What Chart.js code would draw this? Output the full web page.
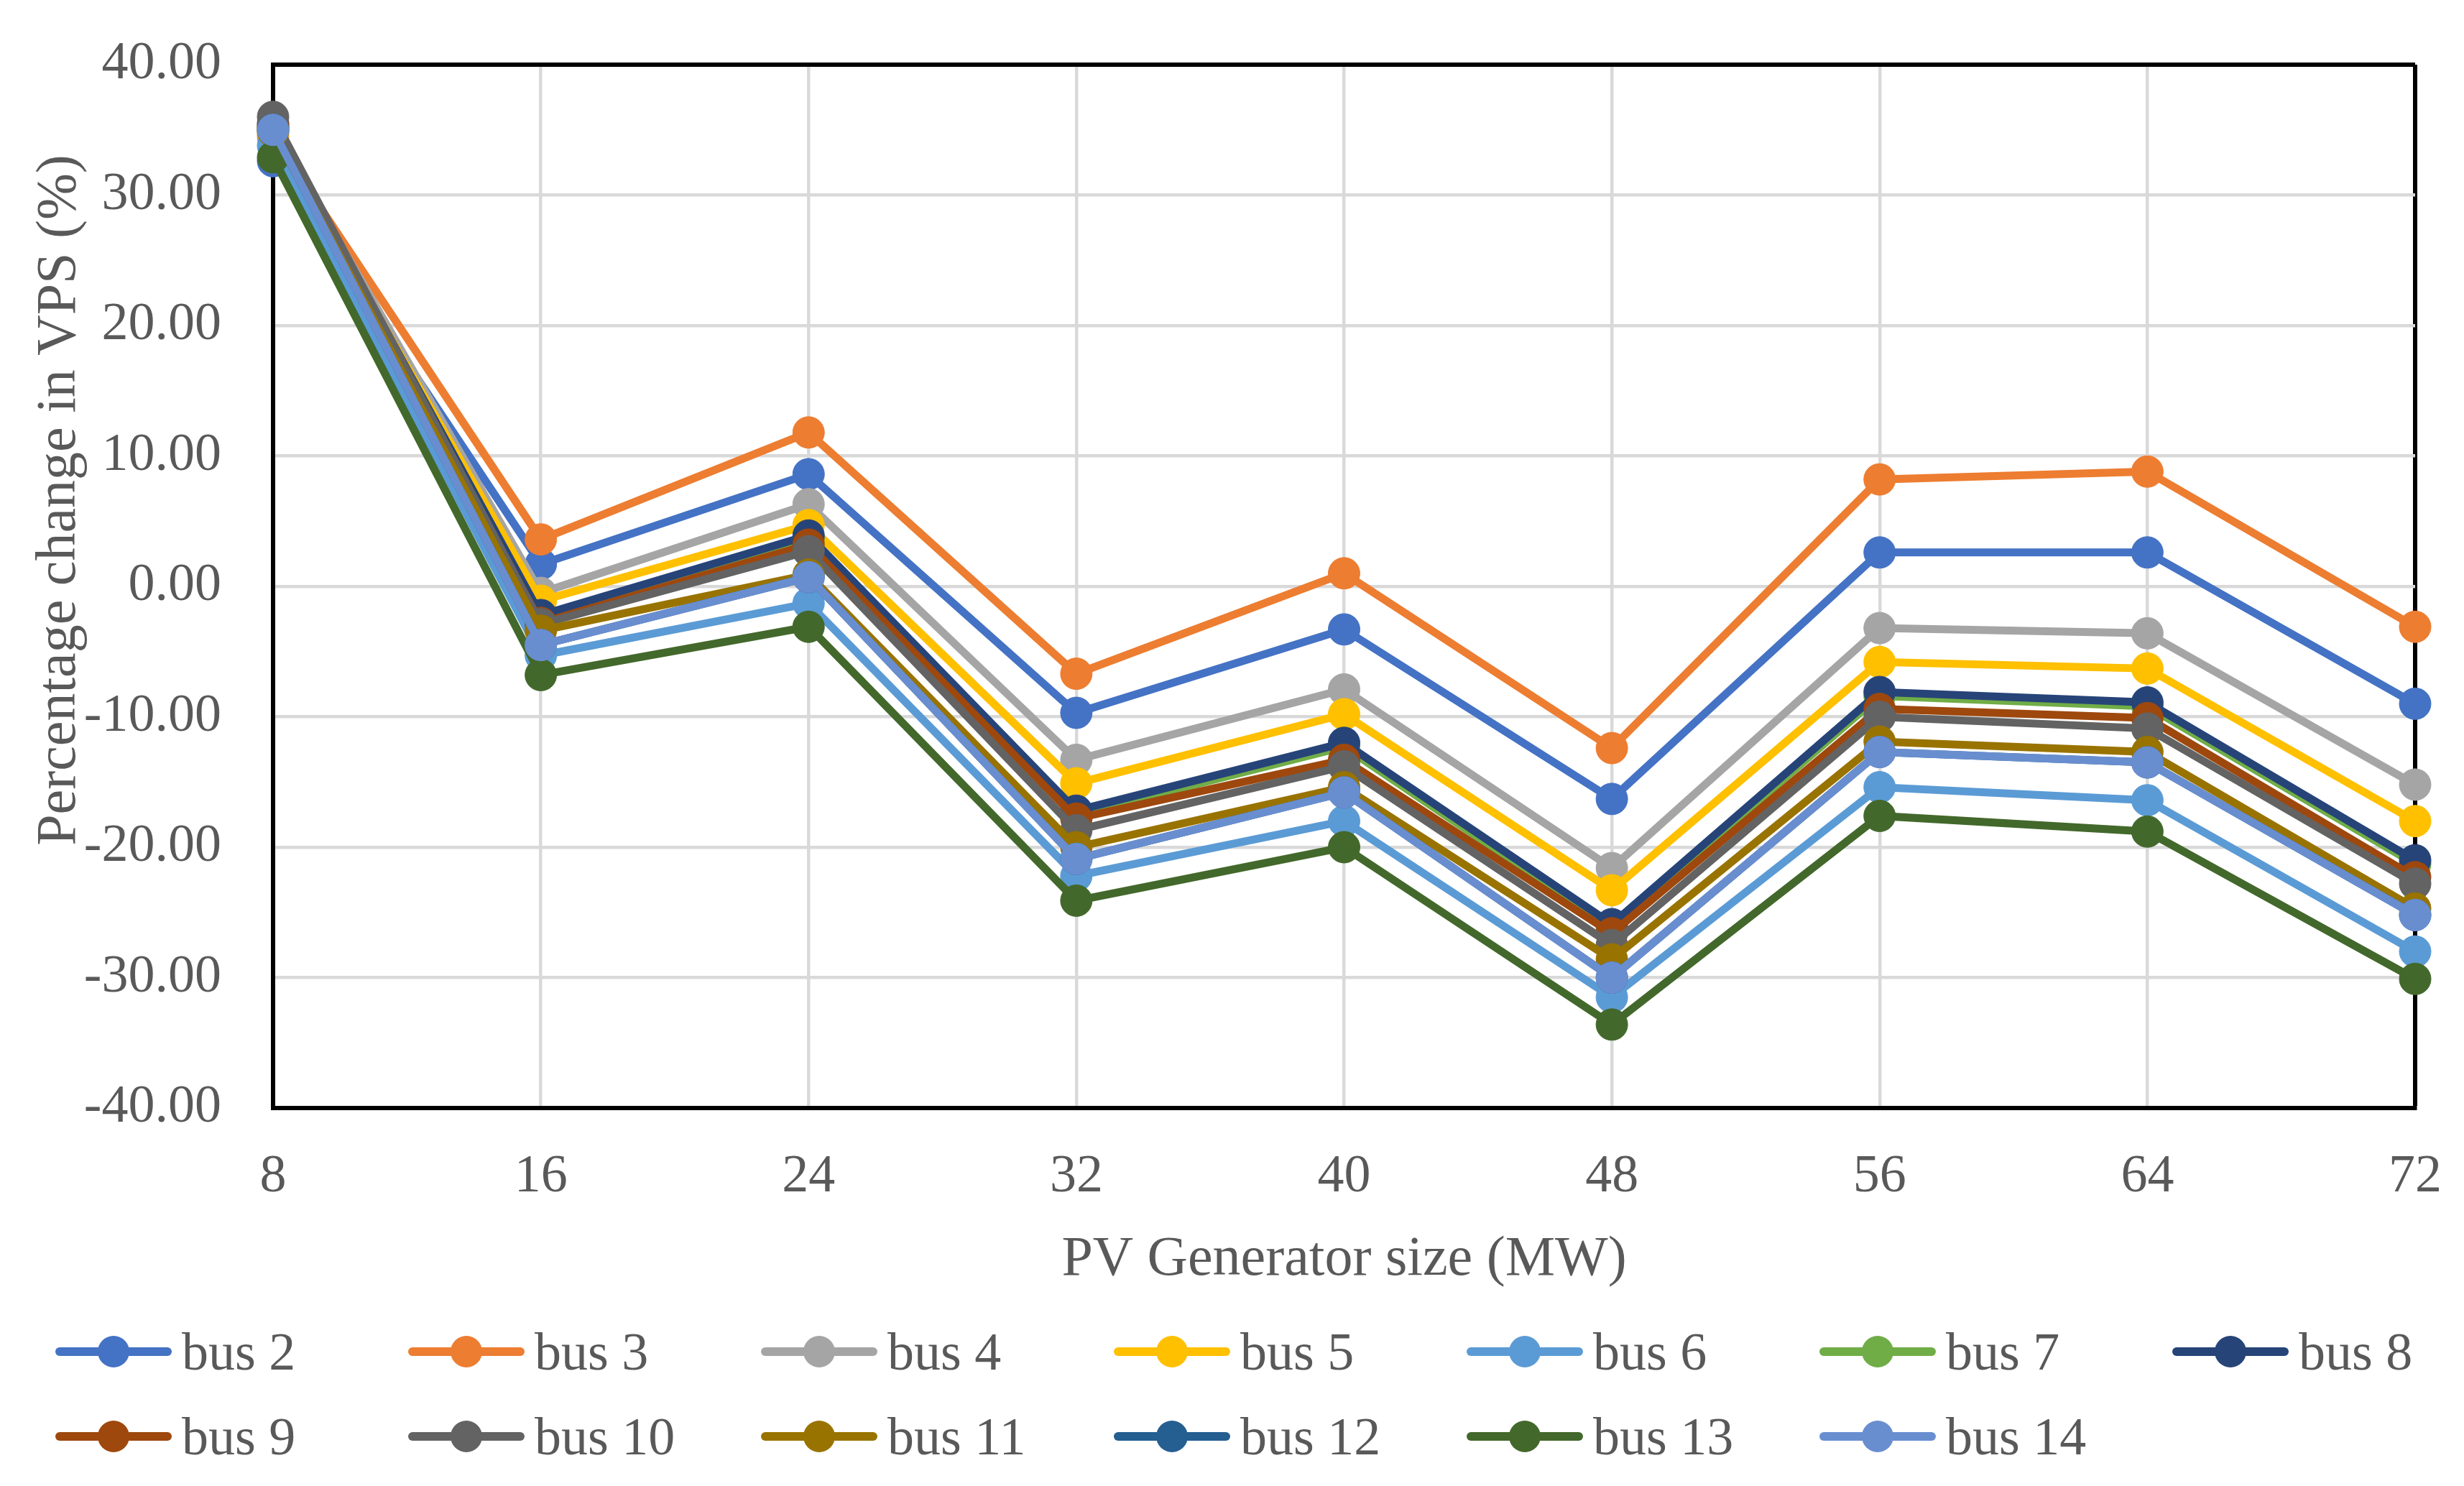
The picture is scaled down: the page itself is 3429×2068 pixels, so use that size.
<!DOCTYPE html>
<html>
<head>
<meta charset="utf-8">
<script src="https://cdn.jsdelivr.net/npm/chart.js@4.4.0/dist/chart.umd.min.js"></script>
<style>
  body { margin: 0; background: #fff; }
  #wrap { position: relative; width: 3429px; height: 2068px; }
  #legend { position: absolute; left: 0; top: 0; width: 3429px; height: 2068px; pointer-events: none;
    font-family: 'Liberation Serif', 'Times New Roman', serif; font-size: 74px; color: #595959; }
  .item { position: absolute; height: 60px; width: 480px; }
  .item .ln { position: absolute; left: 0; top: 24px; width: 162px; height: 12px; border-radius: 6px; }
  .item .dot { position: absolute; left: 59px; top: 8px; width: 44px; height: 44px; border-radius: 50%; }
  .item span { position: absolute; left: 176px; top: 0; line-height: 60px; white-space: nowrap; }
</style>
</head>
<body>
<div id="wrap">
  <canvas id="chart" width="3429" height="2068"></canvas>
  <div id="legend"></div>
</div>
<script>
const pvSizes = ['8', '16', '24', '32', '40', '48', '56', '64', '72'];
const busNames = ['bus 2', 'bus 3', 'bus 4', 'bus 5', 'bus 6', 'bus 7', 'bus 8',
  'bus 9', 'bus 10', 'bus 11', 'bus 12', 'bus 13', 'bus 14'];
const busColors = ['#4472C4', '#ED7D31', '#A5A5A5', '#FFC000', '#5B9BD5', '#70AD47', '#264478',
  '#9E480E', '#636363', '#997300', '#255E91', '#43682B', '#698ED0'];

const bus2 = [32.6, 1.7, 8.6, -9.7, -3.3, -16.3, 2.6, 2.6, -9.0];
const bus3 = [34.5, 3.6, 11.8, -6.7, 1.0, -12.4, 8.2, 8.8, -3.1];
const bus4 = [35.2, -0.5, 6.3, -13.3, -7.9, -21.6, -3.2, -3.6, -15.2];
const bus5 = [34.8, -1.1, 4.7, -15.1, -9.8, -23.3, -5.8, -6.3, -18.0];
const bus6 = [33.8, -5.3, -1.3, -22.2, -18.0, -31.5, -15.4, -16.4, -28.0];
const bus7 = [35.2, -2.5, 3.6, -17.5, -12.3, -26.2, -8.4, -9.2, -21.3];
const bus8 = [35.5, -2.2, 3.9, -17.2, -12.0, -25.9, -8.1, -8.9, -21.0];
const bus9 = [35.3, -2.8, 3.2, -17.8, -13.3, -26.6, -9.4, -10.1, -22.3];
const bus10 = [36.0, -2.9, 2.7, -18.7, -13.8, -27.5, -10.0, -10.9, -22.8];
const bus11 = [34.9, -3.4, 0.9, -20.0, -15.4, -28.6, -11.9, -12.7, -24.7];
const bus12 = [35.0, -4.5, 0.7, -20.9, -15.8, -30.0, -12.7, -13.5, -25.2];
const bus13 = [32.9, -6.8, -3.1, -24.1, -20.0, -33.6, -17.6, -18.8, -30.1];
const bus14 = [35.0, -4.5, 0.7, -20.9, -15.8, -30.0, -12.7, -13.5, -25.2];

const busValues = [bus2, bus3, bus4, bus5, bus6, bus7, bus8, bus9, bus10, bus11, bus12, bus13, bus14];

const xTitle = 'PV Generator size (MW)';
const yTitle = 'Percentage change in VPS (%)';

const textColor = '#595959';
const fontFamily = "'Liberation Serif', 'Times New Roman', serif";

// y axis title sits a bit above the plot centre, as in the original
const yTitlePlugin = {
  id: 'yTitle',
  afterDraw(chart) {
    const ctx = chart.ctx;
    ctx.save();
    ctx.translate(84, 696);
    ctx.rotate(-Math.PI / 2);
    ctx.font = `78px ${fontFamily}`;
    ctx.fillStyle = textColor;
    ctx.textAlign = 'center';
    ctx.textBaseline = 'middle';
    ctx.fillText(yTitle, 0, 0);
    ctx.restore();
  },
};

const datasets = busValues.map((values, i) => ({
  label: busNames[i],
  data: values,
  borderColor: busColors[i],
  backgroundColor: busColors[i],
  pointBackgroundColor: busColors[i],
  pointBorderColor: busColors[i],
  borderWidth: 11,
  pointRadius: 22,
  pointBorderWidth: 1,
  tension: 0,
  clip: false,
  order: -i,
}));

const lastIndex = pvSizes.length - 1;

new Chart(document.querySelector('#chart'), {
  type: 'line',
  data: { labels: pvSizes, datasets },
  options: {
    responsive: false,
    animation: false,
    devicePixelRatio: 1,
    layout: { padding: { left: 0, right: 68, top: 90, bottom: 268 } },
    plugins: {
      legend: { display: false },
      tooltip: { enabled: false },
    },
    scales: {
      x: {
        offset: false,
        grid: {
          drawTicks: false,
          color: (c) => (c.index === lastIndex ? '#000000' : '#D9D9D9'),
          lineWidth: (c) => (c.index === lastIndex ? 6 : 4.5),
        },
        border: { display: true, color: '#000000', width: 6 },
        ticks: {
          padding: 52,
          color: textColor,
          font: { family: fontFamily, size: 74 },
          maxRotation: 0,
        },
        title: {
          display: true,
          text: xTitle,
          color: textColor,
          font: { family: fontFamily, size: 78 },
          padding: 0,
        },
        afterFit: (scale) => {
          scale.height = 258;
          scale.paddingLeft = 0;
          scale.paddingRight = 0;
        },
      },
      y: {
        min: -40,
        max: 40,
        grid: {
          drawTicks: false,
          color: (c) => (c.tick && c.tick.value === 40 ? '#000000' : '#D9D9D9'),
          lineWidth: (c) => (c.tick && c.tick.value === 40 ? 6 : 4.5),
        },
        border: { display: true, color: '#000000', width: 6 },
        ticks: {
          stepSize: 10,
          padding: 72,
          color: textColor,
          font: { family: fontFamily, size: 74 },
          callback: (v) => Number(v).toFixed(2),
        },
        afterFit: (scale) => {
          scale.width = 380;
          scale.paddingTop = 0;
          scale.paddingBottom = 0;
        },
      },
    },
  },
  plugins: [yTitlePlugin],
});

// legend laid out as a grid of 7 columns, like the original
const legend = document.querySelector('#legend');
const rowCenters = [1881, 1999];
busNames.forEach((name, i) => {
  const row = i < 7 ? 0 : 1;
  const col = i < 7 ? i : i - 7;
  const item = document.createElement('div');
  item.className = 'item';
  item.style.left = `${77 + 491 * col}px`;
  item.style.top = `${rowCenters[row] - 30}px`;
  item.innerHTML = `<div class="ln" style="background:${busColors[i]}"></div>` +
    `<div class="dot" style="background:${busColors[i]}"></div><span>${name}</span>`;
  legend.appendChild(item);
});
</script>
</body>
</html>
